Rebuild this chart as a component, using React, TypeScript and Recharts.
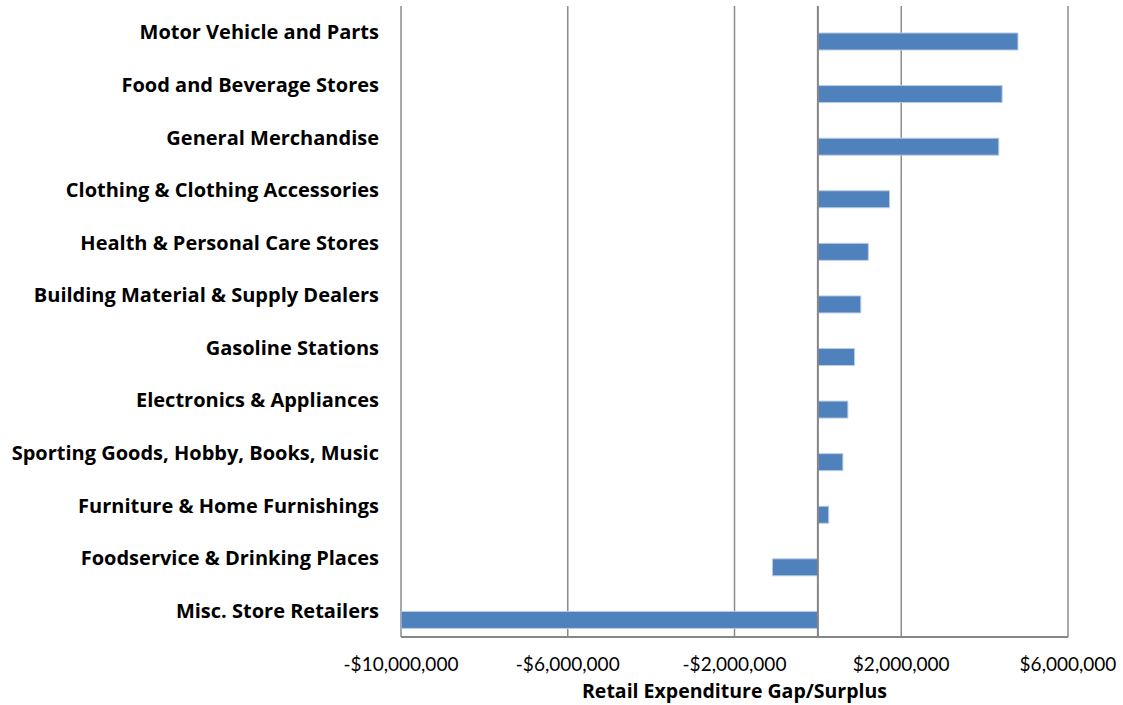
import { BarChart, Bar, XAxis, YAxis, CartesianGrid, ReferenceLine } from 'recharts';

const categories = [
  'Motor Vehicle and Parts',
  'Food and Beverage Stores',
  'General Merchandise',
  'Clothing & Clothing Accessories',
  'Health & Personal Care Stores',
  'Building Material & Supply Dealers',
  'Gasoline Stations',
  'Electronics & Appliances',
  'Sporting Goods, Hobby, Books, Music',
  'Furniture & Home Furnishings',
  'Foodservice & Drinking Places',
  'Misc. Store Retailers',
];

const gapSurplus = [
  4800000, 4420000, 4340000, 1720000, 1210000, 1030000,
  880000, 720000, 600000, 260000, -1090000, -10000000,
];

const xTicks = [-10000000, -6000000, -2000000, 2000000, 6000000];

const data = categories.map((name, i) => ({ name, value: gapSurplus[i] }));

const fmt = (v: number) => (v < 0 ? '-$' : '$') + Math.abs(v).toLocaleString('en-US');

export default function App() {
  return (
    <div style={{ position: 'absolute', left: 0, top: 0, fontFamily: 'Lato, sans-serif', background: '#fff' }}>
      <BarChart
        width={1123}
        height={705}
        data={data}
        layout="vertical"
        margin={{ top: 6, right: 55, bottom: 0, left: 0 }}
        barSize={17}
        barGap={1}
      >
        <CartesianGrid horizontal={false} stroke="#8c8c8c" strokeWidth={1.5} />
        <XAxis
          type="number"
          domain={[-10000000, 6000000]}
          ticks={xTicks}
          tickFormatter={fmt}
          allowDataOverflow
          height={68}
          tickSize={0}
          tickMargin={21}
          tickLine={false}
          axisLine={{ stroke: '#878787', strokeWidth: 2 }}
          tick={{ fill: '#000', fontSize: 19 }}
          label={{
            value: 'Retail Expenditure Gap/Surplus',
            position: 'insideBottom',
            offset: 7,
            fill: '#000',
            fontSize: 19.5,
            fontWeight: 700,
            style: { fontFamily: '"Open Sans", sans-serif' },
          }}
        />
        <YAxis
          type="category"
          dataKey="name"
          width={401}
          tickSize={0}
          tickMargin={22}
          tickLine={false}
          axisLine={false}
          interval={0}
          tick={{ fill: '#000', fontSize: 20, fontWeight: 700, style: { fontFamily: '"Open Sans", sans-serif' } }}
        />
        <ReferenceLine x={0} stroke="#858585" strokeWidth={2} />
        <Bar dataKey="spacer" fill="#4f81bd" isAnimationActive={false} />
        <Bar dataKey="value" fill="#4f81bd" stroke="#b9cde5" strokeWidth={1} isAnimationActive={false} />
      </BarChart>
    </div>
  );
}
